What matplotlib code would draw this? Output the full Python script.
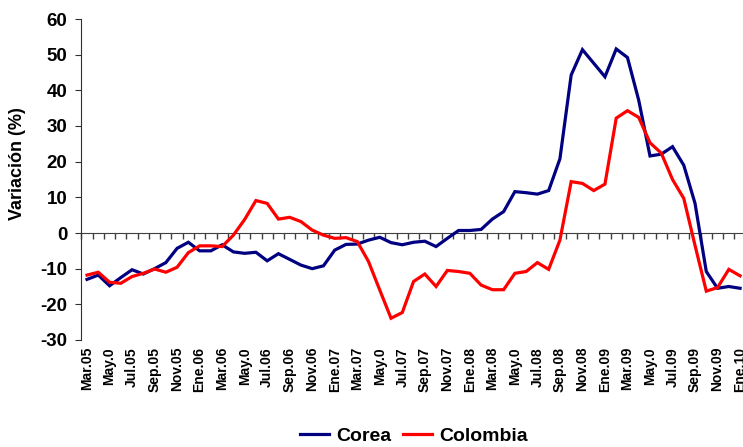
import numpy as np
import matplotlib
matplotlib.use('Agg')
from matplotlib import pyplot as plt

plt.rcParams['font.family'] = ['Liberation Sans', 'DejaVu Sans']
plt.rcParams['axes.unicode_minus'] = False

# variacion anual mensual, Mar.05 - Ene.10
corea = [-13, -11.8, -14.8, -12.5, -10.3, -11.5, -10, -8.3, -4.3, -2.6,
         -5, -5, -3.3, -5.3, -5.7, -5.4, -7.8, -5.8, -7.4, -9, -10, -9.2,
         -4.8, -3.2, -3.1, -2, -1.2, -2.7, -3.3, -2.6, -2.3, -3.8, -1.5,
         0.7, 0.7, 1, 3.9, 6, 11.6, 11.3, 10.9, 11.9, 20.8, 44.3, 51.4,
         47.6, 43.8, 51.6, 49.2, 37.2, 21.6, 22.1, 24.2, 19, 8.3, -10.8,
         -15.5, -15, -15.5]
colombia = [-11.8, -11, -13.8, -14.1, -12.2, -11.3, -10.1, -11, -9.6, -5.5,
            -3.6, -3.6, -3.8, -0.6, 3.8, 9.1, 8.3, 3.9, 4.4, 3.2, 0.8, -0.6,
            -1.5, -1.3, -2.4, -8, -16, -23.9, -22.3, -13.6, -11.5, -15,
            -10.5, -10.8, -11.3, -14.6, -15.9, -15.9, -11.3, -10.8, -8.3,
            -10.2, -2, 14.4, 13.9, 11.9, 13.7, 32.2, 34.3, 32.4, 25.3, 22.4,
            15, 9.7, -3.5, -16.3, -15.3, -10.2, -12]
etiquetas = ['Mar.05', 'May.0', 'Jul.05', 'Sep.05', 'Nov.05', 'Ene.06',
             'Mar.06', 'May.0', 'Jul.06', 'Sep.06', 'Nov.06', 'Ene.07',
             'Mar.07', 'May.0', 'Jul.07', 'Sep.07', 'Nov.07', 'Ene.08',
             'Mar.08', 'May.0', 'Jul.08', 'Sep.08', 'Nov.08', 'Ene.09',
             'Mar.09', 'May.0', 'Jul.09', 'Sep.09', 'Nov.09', 'Ene.10']

x = np.arange(len(corea))

fig = plt.figure(figsize=(7.43, 4.47), dpi=100)
ax = fig.add_axes([81.4/743, 107/447, 664.3/743, 321/447])

l1, = ax.plot(x, corea, color='#000080', lw=2.3, solid_joinstyle='miter')
l2, = ax.plot(x, colombia, color='#FF0000', lw=2.3, solid_joinstyle='miter')

ax.set_xlim(-0.5, len(x) - 0.5)
ax.set_ylim(-30, 60)
ax.set_yticks(range(-30, 61, 10))

for s in ['top', 'right', 'bottom']:
    ax.spines[s].set_visible(False)
ax.spines['left'].set_color('#303030')
ax.tick_params(axis='y', direction='out', length=4, color='#303030',
               labelsize=13.5, pad=6)
for t in ax.get_yticklabels():
    t.set_fontweight('bold')

ax.set_xticks(x[::2])
ax.set_xticklabels(etiquetas, rotation=90, fontsize=10, fontweight='bold')
ax.tick_params(axis='x', length=0, pad=5)

# eje de categorias cruzando en cero
eje0 = ax.secondary_xaxis(30/90)
eje0.set_xticks(np.arange(-0.5, len(x), 1))
eje0.set_xticklabels([])
eje0.tick_params(direction='out', length=4, width=1, color='#404040')
eje0.spines['bottom'].set_color('#404040')

ax.set_ylabel('Variación (%)', fontsize=13, fontweight='bold')
ax.yaxis.set_label_coords(-0.083, 0.55)

fig.legend([l1, l2], ['Corea', 'Colombia'], loc='center',
           bbox_to_anchor=(0.557, 0.024), ncol=2, frameon=False,
           prop={'size': 14, 'weight': 'bold'}, handlelength=1.5,
           handletextpad=0.35, columnspacing=0.6)

fig.savefig('out.png', dpi=100)
